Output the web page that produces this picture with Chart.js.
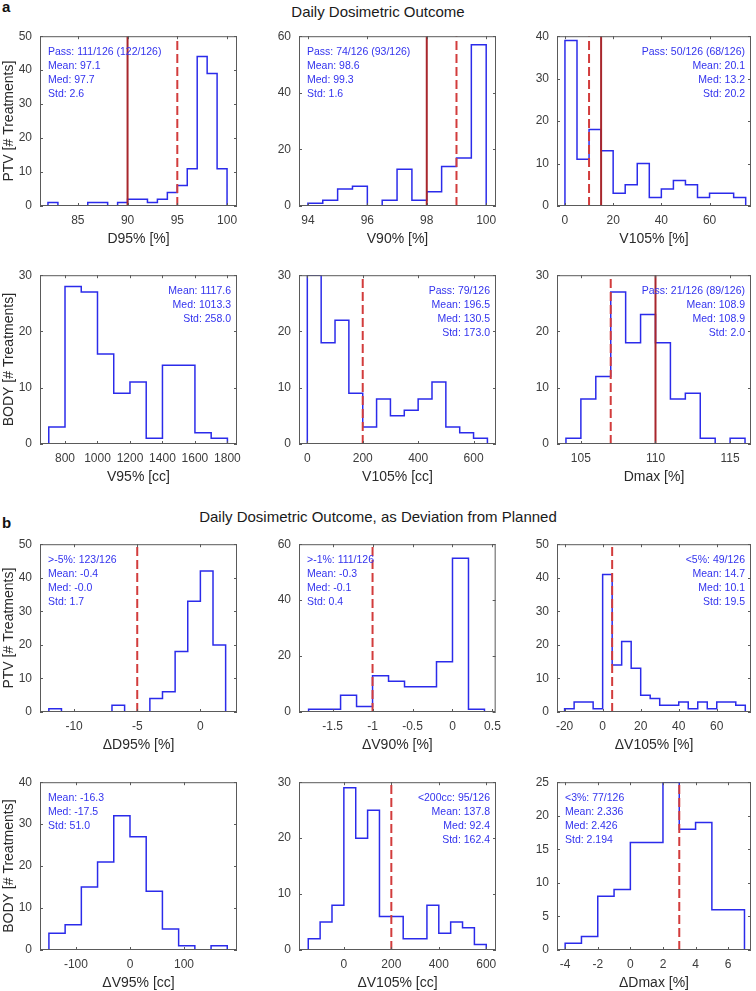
<!DOCTYPE html>
<html>
<head>
<meta charset="utf-8">
<script src="https://cdn.jsdelivr.net/npm/chart.js@4.4.1/dist/chart.umd.min.js"></script>
<style>
  html, body { margin: 0; padding: 0; background: #fff; }
  body { width: 756px; height: 991px; position: relative; overflow: hidden; font-family: "Liberation Sans", Arial, sans-serif; }
  canvas { position: absolute; }
  .tag { position: absolute; left: 2px; font-weight: bold; font-size: 15px; line-height: 15px; color: #111; }
  .head { position: absolute; left: 0; width: 756px; text-align: center; font-size: 15px; line-height: 15px; color: #1a1a1a; }
</style>
</head>
<body>
<div class="tag" style="top:-1px">a</div>
<div class="head" style="top:4px">Daily Dosimetric Outcome</div>
<div class="tag" style="top:515px">b</div>
<div class="head" style="top:509px">Daily Dosimetric Outcome, as Deviation from Planned</div>
<script>
// ---- a: daily dosimetric outcome ----
const PTV_D95_EDGES = [82, 83, 84, 85, 86, 87, 88, 89, 90, 91, 92, 93, 94, 95, 96, 97, 98, 99, 100];
const PTV_D95_COUNTS = [1, 0, 0, 0, 1, 1, 0, 1, 2, 2, 1, 2, 4, 6, 11, 44, 39, 11];
const PTV_D95_TICKS = [85, 90, 95, 100];
const PTV_D95_SOLID = [90], PTV_D95_DASHED = [95];
const PTV_D95_INFO = ['Pass: 111/126 (122/126)', 'Mean: 97.1', 'Med: 97.7', 'Std: 2.6'];

const PTV_V90_EDGES = [94, 94.5, 95, 95.5, 96, 96.5, 97, 97.5, 98, 98.5, 99, 99.5, 100];
const PTV_V90_COUNTS = [1, 2, 6, 7, 0, 2, 13, 2, 5, 14, 17, 57];
const PTV_V90_TICKS = [94, 96, 98, 100];
const PTV_V90_SOLID = [98], PTV_V90_DASHED = [99];
const PTV_V90_INFO = ['Pass: 74/126 (93/126)', 'Mean: 98.6', 'Med: 99.3', 'Std: 1.6'];

const PTV_V105_EDGES = [0, 5, 10, 15, 20, 25, 30, 35, 40, 45, 50, 55, 60, 65, 70, 75];
const PTV_V105_COUNTS = [39, 11, 18, 13, 3, 5, 10, 2, 4, 6, 5, 2, 3, 3, 2];
const PTV_V105_TICKS = [0, 20, 40, 60];
const PTV_V105_SOLID = [15], PTV_V105_DASHED = [10];
const PTV_V105_INFO = ['Pass: 50/126 (68/126)', 'Mean: 20.1', 'Med: 13.2', 'Std: 20.2'];

const BODY_V95_EDGES = [700, 800, 900, 1000, 1100, 1200, 1300, 1400, 1500, 1600, 1700, 1800];
const BODY_V95_COUNTS = [3, 28, 27, 16, 9, 11, 1, 14, 14, 2, 1];
const BODY_V95_TICKS = [800, 1000, 1200, 1400, 1600, 1800];
const BODY_V95_INFO = ['Mean: 1117.6', 'Med: 1013.3', 'Std: 258.0'];

const BODY_V105_EDGES = [0, 50, 100, 150, 200, 250, 300, 350, 400, 450, 500, 550, 600, 650];
const BODY_V105_COUNTS = [30, 18, 22, 9, 3, 8, 5, 6, 8, 11, 3, 2, 1];
const BODY_V105_TICKS = [0, 200, 400, 600];
const BODY_V105_DASHED = [200];
const BODY_V105_INFO = ['Pass: 79/126', 'Mean: 196.5', 'Med: 130.5', 'Std: 173.0'];

const BODY_DMAX_EDGES = [104, 105, 106, 107, 108, 109, 110, 111, 112, 113, 114, 115, 116];
const BODY_DMAX_COUNTS = [1, 8, 12, 27, 18, 23, 18, 8, 9, 1, 0, 1];
const BODY_DMAX_TICKS = [105, 110, 115];
const BODY_DMAX_SOLID = [110], BODY_DMAX_DASHED = [107];
const BODY_DMAX_INFO = ['Pass: 21/126 (89/126)', 'Mean: 108.9', 'Med: 108.9', 'Std: 2.0'];

// ---- b: deviation from planned ----
const DPTV_D95_EDGES = [-12, -11, -10, -9, -8, -7, -6, -5, -4, -3, -2, -1, 0, 1, 2];
const DPTV_D95_COUNTS = [1, 0, 0, 0, 0, 2, 0, 0, 4, 6, 18, 33, 42, 20];
const DPTV_D95_TICKS = [-10, -5, 0];
const DPTV_D95_DASHED = [-5];
const DPTV_D95_INFO = ['>-5%: 123/126', 'Mean: -0.4', 'Med: -0.0', 'Std: 1.7'];

const DPTV_V90_EDGES = [-1.8, -1.6, -1.4, -1.2, -1.0, -0.8, -0.6, -0.4, -0.2, 0, 0.2, 0.4];
const DPTV_V90_COUNTS = [1, 1, 6, 2, 13, 11, 9, 9, 18, 55, 1];
const DPTV_V90_TICKS = [-1.5, -1, -0.5, 0, 0.5];
const DPTV_V90_DASHED = [-1];
const DPTV_V90_INFO = ['>-1%: 111/126', 'Mean: -0.3', 'Med: -0.1', 'Std: 0.4'];

const DPTV_V105_EDGES = [-20, -15, -10, -5, 0, 5, 10, 15, 20, 25, 30, 35, 40, 45, 50, 55, 60, 65, 70, 75];
const DPTV_V105_COUNTS = [1, 3, 3, 1, 41, 14, 21, 13, 5, 4, 2, 2, 3, 1, 3, 1, 3, 3, 2];
const DPTV_V105_TICKS = [-20, 0, 20, 40, 60];
const DPTV_V105_DASHED = [5];
const DPTV_V105_INFO = ['<5%: 49/126', 'Mean: 14.7', 'Med: 10.1', 'Std: 19.5'];

const DBODY_V95_EDGES = [-150, -120, -90, -60, -30, 0, 30, 60, 90, 120, 150, 180];
const DBODY_V95_COUNTS = [4, 6, 15, 21, 32, 27, 14, 5, 1, 0, 1];
const DBODY_V95_TICKS = [-100, 0, 100];
const DBODY_V95_INFO = ['Mean: -16.3', 'Med: -17.5', 'Std: 51.0'];

const DBODY_V105_EDGES = [-150, -100, -50, 0, 50, 100, 150, 200, 250, 300, 350, 400, 450, 500, 550, 600];
const DBODY_V105_COUNTS = [2, 5, 8, 29, 20, 25, 6, 6, 2, 2, 8, 3, 5, 4, 1];
const DBODY_V105_TICKS = [0, 200, 400, 600];
const DBODY_V105_DASHED = [200];
const DBODY_V105_INFO = ['<200cc: 95/126', 'Mean: 137.8', 'Med: 92.4', 'Std: 162.4'];

const DBODY_DMAX_EDGES = [-4, -3, -2, -1, 0, 1, 2, 3, 4, 5, 6, 7];
const DBODY_DMAX_COUNTS = [1, 2, 8, 9, 16, 16, 25, 18, 19, 6, 6];
const DBODY_DMAX_TICKS = [-4, -2, 0, 2, 4, 6];
const DBODY_DMAX_DASHED = [3];
const DBODY_DMAX_INFO = ['<3%: 77/126', 'Mean: 2.336', 'Med: 2.426', 'Std: 2.194'];

const Y_TICKS_60 = [0, 20, 40, 60];
const Y_TICKS_50 = [0, 10, 20, 30, 40, 50];
const Y_TICKS_40 = [0, 10, 20, 30, 40];
const Y_TICKS_30 = [0, 10, 20, 30];
const Y_TICKS_25 = [0, 5, 10, 15, 20, 25];

const PANELS = [
  { row: 0, col: 0, edges: PTV_D95_EDGES, counts: PTV_D95_COUNTS, xMin: 81.2, xMax: 101, xTicks: PTV_D95_TICKS, yMax: 50, yTicks: Y_TICKS_50,
    xTitle: 'D95% [%]', yTitle: 'PTV [# Treatments]', solid: PTV_D95_SOLID, dashed: PTV_D95_DASHED, info: PTV_D95_INFO, align: 'left' },
  { row: 0, col: 1, edges: PTV_V90_EDGES, counts: PTV_V90_COUNTS, xMin: 93.7, xMax: 100.33, xTicks: PTV_V90_TICKS, yMax: 60, yTicks: Y_TICKS_60,
    xTitle: 'V90% [%]', solid: PTV_V90_SOLID, dashed: PTV_V90_DASHED, info: PTV_V90_INFO, align: 'left' },
  { row: 0, col: 2, edges: PTV_V105_EDGES, counts: PTV_V105_COUNTS, xMin: -3.3, xMax: 77.2, xTicks: PTV_V105_TICKS, yMax: 40, yTicks: Y_TICKS_40,
    xTitle: 'V105% [%]', solid: PTV_V105_SOLID, dashed: PTV_V105_DASHED, info: PTV_V105_INFO, align: 'right' },
  { row: 1, col: 0, edges: BODY_V95_EDGES, counts: BODY_V95_COUNTS, xMin: 646, xMax: 1859, xTicks: BODY_V95_TICKS, yMax: 30, yTicks: Y_TICKS_30,
    xTitle: 'V95% [cc]', yTitle: 'BODY [# Treatments]', info: BODY_V95_INFO, align: 'right' },
  { row: 1, col: 1, edges: BODY_V105_EDGES, counts: BODY_V105_COUNTS, xMin: -30, xMax: 681, xTicks: BODY_V105_TICKS, yMax: 30, yTicks: Y_TICKS_30,
    xTitle: 'V105% [cc]', dashed: BODY_V105_DASHED, info: BODY_V105_INFO, align: 'right' },
  { row: 1, col: 2, edges: BODY_DMAX_EDGES, counts: BODY_DMAX_COUNTS, xMin: 103.4, xMax: 116.4, xTicks: BODY_DMAX_TICKS, yMax: 30, yTicks: Y_TICKS_30,
    xTitle: 'Dmax [%]', solid: BODY_DMAX_SOLID, dashed: BODY_DMAX_DASHED, info: BODY_DMAX_INFO, align: 'right' },
  { row: 2, col: 0, edges: DPTV_D95_EDGES, counts: DPTV_D95_COUNTS, xMin: -12.7, xMax: 2.9, xTicks: DPTV_D95_TICKS, yMax: 50, yTicks: Y_TICKS_50,
    xTitle: '\u0394D95% [%]', yTitle: 'PTV [# Treatments]', dashed: DPTV_D95_DASHED, info: DPTV_D95_INFO, align: 'left' },
  { row: 2, col: 1, edges: DPTV_V90_EDGES, counts: DPTV_V90_COUNTS, xMin: -1.92, xMax: 0.54, xTicks: DPTV_V90_TICKS, yMax: 60, yTicks: Y_TICKS_60,
    xTitle: '\u0394V90% [%]', dashed: DPTV_V90_DASHED, info: DPTV_V90_INFO, align: 'left' },
  { row: 2, col: 2, edges: DPTV_V105_EDGES, counts: DPTV_V105_COUNTS, xMin: -24, xMax: 78, xTicks: DPTV_V105_TICKS, yMax: 50, yTicks: Y_TICKS_50,
    xTitle: '\u0394V105% [%]', dashed: DPTV_V105_DASHED, info: DPTV_V105_INFO, align: 'right' },
  { row: 3, col: 0, edges: DBODY_V95_EDGES, counts: DBODY_V95_COUNTS, xMin: -166.5, xMax: 198, xTicks: DBODY_V95_TICKS, yMax: 40, yTicks: Y_TICKS_40,
    xTitle: '\u0394V95% [cc]', yTitle: 'BODY [# Treatments]', info: DBODY_V95_INFO, align: 'left' },
  { row: 3, col: 1, edges: DBODY_V105_EDGES, counts: DBODY_V105_COUNTS, xMin: -189, xMax: 641, xTicks: DBODY_V105_TICKS, yMax: 30, yTicks: Y_TICKS_30,
    xTitle: '\u0394V105% [cc]', dashed: DBODY_V105_DASHED, info: DBODY_V105_INFO, align: 'right' },
  { row: 3, col: 2, edges: DBODY_DMAX_EDGES, counts: DBODY_DMAX_COUNTS, xMin: -4.5, xMax: 7.4, xTicks: DBODY_DMAX_TICKS, yMax: 25, yTicks: Y_TICKS_25,
    xTitle: '\u0394Dmax [%]', dashed: DBODY_DMAX_DASHED, info: DBODY_DMAX_INFO, align: 'left' },
];

// plot boxes (px) of the 3x4 grid
const COLS = [{ left: 40, w: 197 }, { left: 299, w: 197 }, { left: 557, w: 194 }];
const ROWS = [{ top: 33, h: 173 }, { top: 272, h: 172 }, { top: 541, h: 171 }, { top: 779, h: 171 }];
const Y_AXIS_W = 40, X_AXIS_H = 44, PAD_TOP = 12, PAD_RIGHT = 12;

const FONT = '"Liberation Sans", Arial, Helvetica, sans-serif';
const BLUE = '#2b2bea';
const TEXT_BLUE = '#3333ee';
const RED_SOLID = '#a8262c';
const RED_DASH = '#d23c3c';
const AXIS = '#5a5a5a';
const TICK_TXT = '#3c3c3c';
const TICK_LEN = 3;

// outline of a stairs-style histogram
function stairs(edges, counts) {
  const pts = [{ x: edges[0], y: 0 }];
  counts.forEach((c, i) => pts.push({ x: edges[i], y: c }));
  pts.push({ x: edges[edges.length - 1], y: 0 });
  return pts;
}

function vline(v, yMax, dashed) {
  return {
    data: [{ x: v, y: 0 }, { x: v, y: yMax }],
    borderColor: dashed ? RED_DASH : RED_SOLID,
    borderWidth: 2,
    borderDash: dashed ? [9, 4] : [],
    pointRadius: 0,
    clip: 0,
    order: 0,
  };
}

// matlab-like box with inward ticks + stats text
const boxPlugin = {
  id: 'matlabBox',
  afterDatasetsDraw(chart, args, opts) {
    const { ctx, chartArea: a, scales: { x, y } } = chart;
    ctx.save();
    ctx.strokeStyle = AXIS;
    ctx.lineWidth = 1;
    ctx.strokeRect(a.left + 0.5, a.top + 0.5, a.width - 1, a.height - 1);
    ctx.beginPath();
    x.ticks.forEach(t => {
      const px = Math.round(x.getPixelForValue(t.value)) + 0.5;
      if (px < a.left || px > a.right) return;
      ctx.moveTo(px, a.bottom); ctx.lineTo(px, a.bottom - TICK_LEN);
      ctx.moveTo(px, a.top); ctx.lineTo(px, a.top + TICK_LEN);
    });
    y.ticks.forEach(t => {
      const py = Math.round(y.getPixelForValue(t.value)) + 0.5;
      ctx.moveTo(a.left, py); ctx.lineTo(a.left + TICK_LEN, py);
      ctx.moveTo(a.right, py); ctx.lineTo(a.right - TICK_LEN, py);
    });
    ctx.stroke();

    ctx.fillStyle = TEXT_BLUE;
    ctx.font = '10.5px ' + FONT;
    ctx.textBaseline = 'middle';
    ctx.textAlign = opts.align;
    const tx = opts.align === 'left' ? a.left + 8 : a.right - 6;
    opts.info.forEach((s, i) => ctx.fillText(s, tx, a.top + 16 + i * 14));
    ctx.restore();
  },
};

PANELS.forEach(p => {
  const c = COLS[p.col], r = ROWS[p.row];
  const w = Y_AXIS_W + c.w + PAD_RIGHT, h = PAD_TOP + r.h + X_AXIS_H;
  const cv = document.createElement('canvas');
  cv.width = w; cv.height = h;
  cv.style.left = (c.left - Y_AXIS_W) + 'px';
  cv.style.top = (r.top - PAD_TOP) + 'px';
  cv.style.width = w + 'px'; cv.style.height = h + 'px';
  document.body.appendChild(cv);

  const datasets = [];
  (p.solid || []).forEach(v => datasets.push(vline(v, p.yMax, false)));
  (p.dashed || []).forEach(v => datasets.push(vline(v, p.yMax, true)));
  datasets.push({
    data: stairs(p.edges, p.counts),
    stepped: 'before',
    borderColor: BLUE,
    borderWidth: 1.5,
    pointRadius: 0,
    fill: false,
    clip: 0,
    order: 1,
  });

  new Chart(cv, {
    type: 'line',
    data: { datasets },
    plugins: [boxPlugin],
    options: {
      responsive: false,
      animation: false,
      devicePixelRatio: 1,
      events: [],
      layout: { padding: { top: PAD_TOP, right: PAD_RIGHT, left: 0, bottom: 0 } },
      plugins: {
        legend: { display: false },
        tooltip: { enabled: false },
        matlabBox: { info: p.info, align: p.align },
      },
      scales: {
        x: {
          type: 'linear',
          min: p.xMin, max: p.xMax,
          grid: { display: false, drawTicks: false },
          border: { display: false },
          afterBuildTicks: s => { s.ticks = p.xTicks.map(v => ({ value: v })); },
          afterFit: s => { s.height = X_AXIS_H; },
          ticks: {
            autoSkip: false, maxRotation: 0, minRotation: 0, padding: 7,
            color: TICK_TXT, font: { family: FONT, size: 12 },
            callback: v => String(v),
          },
          title: {
            display: true, text: p.xTitle, color: '#2a2a2a',
            font: { family: FONT, size: 14 }, padding: { top: 0, bottom: 2.6 },
          },
        },
        y: {
          type: 'linear',
          min: 0, max: p.yMax,
          grid: { display: false, drawTicks: false },
          border: { display: false },
          afterBuildTicks: s => { s.ticks = p.yTicks.map(v => ({ value: v })); },
          afterFit: s => { s.width = Y_AXIS_W; },
          ticks: {
            padding: 8, color: TICK_TXT, font: { family: FONT, size: 12 },
            callback: v => String(v),
          },
          title: {
            display: !!p.yTitle, text: p.yTitle || '', color: '#2a2a2a',
            font: { family: FONT, size: 14 }, padding: { top: 1, bottom: 0 },
          },
        },
      },
    },
  });
});
</script>
</body>
</html>
